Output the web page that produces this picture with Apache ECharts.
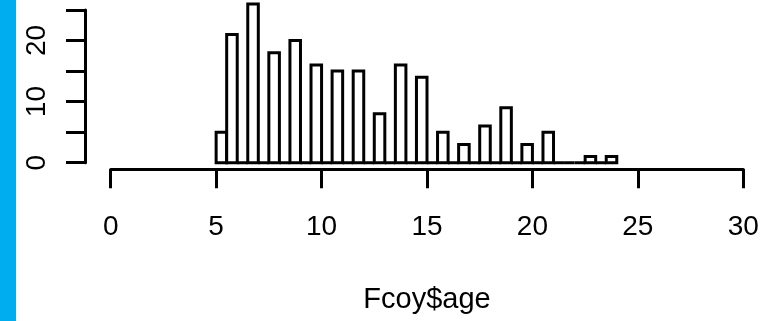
<!DOCTYPE html>
<html>
<head>
<meta charset="utf-8">
<script src="https://cdn.jsdelivr.net/npm/echarts@6/dist/echarts.min.js"></script>
<style>
  html, body { margin: 0; padding: 0; background: #ffffff; }
  #chart { width: 778px; height: 321px; }
</style>
</head>
<body>
<div id="chart"></div>
<script>
// Histogram of Fcoy$age: bin edges (width 0.5) and the count in each bin
const breaks = [5, 5.5, 6, 6.5, 7, 7.5, 8, 8.5, 9, 9.5, 10, 10.5, 11, 11.5, 12, 12.5,
  13, 13.5, 14, 14.5, 15, 15.5, 16, 16.5, 17, 17.5, 18, 18.5, 19, 19.5, 20, 20.5,
  21, 21.5, 22, 22.5, 23, 23.5, 24];
const counts = [5, 21, 0, 26, 0, 18, 0, 20, 0, 16, 0, 15, 0, 15, 0, 8,
  0, 16, 0, 14, 0, 5, 0, 3, 0, 6, 0, 9, 0, 3, 0, 5,
  0, 0, 0, 1, 0, 1];

const xTicks = [0, 5, 10, 15, 20, 25, 30];
const yTicks = [0, 5, 10, 15, 20, 25];
const yLabelled = [0, 10, 20];
const xTitle = 'Fcoy$age';

const bins = counts.map((c, i) => [breaks[i], breaks[i + 1], c]);

const FONT = 'Liberation Sans, Arial, Helvetica, sans-serif';
const INK = '#000000';

const chart = echarts.init(document.getElementById('chart'), null, { renderer: 'canvas' });

chart.setOption({
  animation: false,
  backgroundColor: '#ffffff',
  graphic: [{
    type: 'rect',
    left: 0, top: 0,
    shape: { width: 16, height: 321 },
    style: { fill: '#00AEEF' },
    silent: true
  }],
  grid: { left: 110.7, right: 34.7, top: 10, bottom: 158.3, containLabel: false },
  xAxis: {
    type: 'value',
    min: xTicks[0], max: xTicks[xTicks.length - 1], interval: 5,
    offset: 6.5,
    axisLine: { show: true, onZero: false, lineStyle: { color: INK, width: 3 } },
    axisTick: { show: true, inside: false, length: 19, lineStyle: { color: INK, width: 3 } },
    axisLabel: { show: true, margin: 44, color: INK, fontSize: 28, fontFamily: FONT },
    splitLine: { show: false },
    name: xTitle,
    nameLocation: 'middle',
    nameGap: 116,
    nameTextStyle: { color: INK, fontSize: 29, fontFamily: FONT }
  },
  yAxis: {
    type: 'value',
    min: yTicks[0], max: yTicks[yTicks.length - 1], interval: 5,
    offset: 25.7,
    axisLine: { show: true, onZero: false, lineStyle: { color: INK, width: 3 } },
    axisTick: { show: true, inside: false, length: 19, lineStyle: { color: INK, width: 3 } },
    axisLabel: {
      show: true, rotate: 90, margin: 34, color: INK, fontSize: 28, fontFamily: FONT,
      formatter: v => (yLabelled.indexOf(v) >= 0 ? String(v) : '')
    },
    splitLine: { show: false }
  },
  series: [{
    type: 'custom',
    clip: false,
    data: bins,
    encode: { x: [0, 1], y: 2 },
    renderItem: function (params, api) {
      const p0 = api.coord([api.value(0), 0]);
      const p1 = api.coord([api.value(1), api.value(2)]);
      return {
        type: 'rect',
        shape: { x: p0[0], y: p1[1], width: p1[0] - p0[0], height: p0[1] - p1[1] },
        style: { fill: '#ffffff', stroke: INK, lineWidth: 3 }
      };
    }
  }]
});
</script>
</body>
</html>
